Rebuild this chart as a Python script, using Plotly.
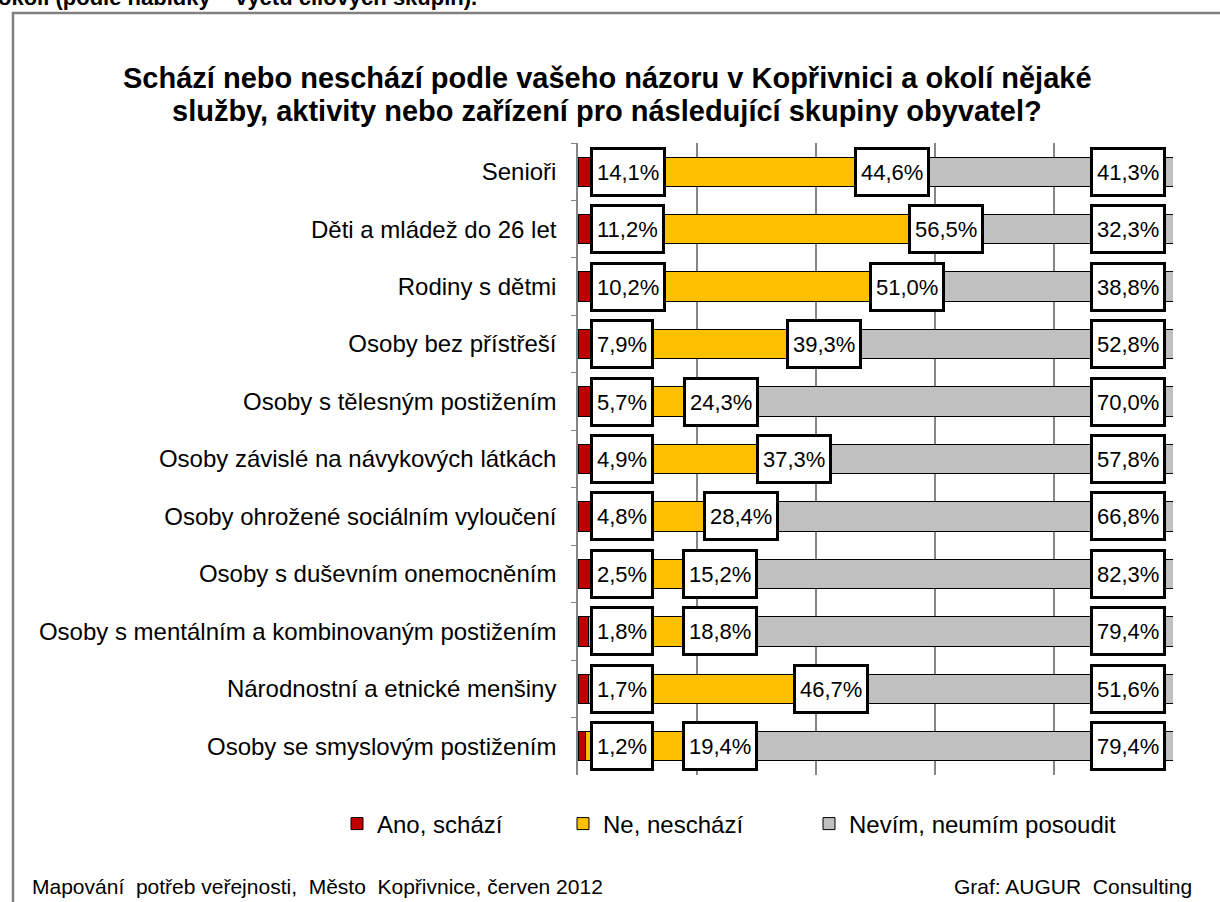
import plotly.graph_objects as go

# Data (top to bottom as in the picture)
groups = [
    "Senioři",
    "Děti a mládež do 26 let",
    "Rodiny s dětmi",
    "Osoby bez přístřeší",
    "Osoby s tělesným postižením",
    "Osoby závislé na návykových látkách",
    "Osoby ohrožené sociálním vyloučení",
    "Osoby s duševním onemocněním",
    "Osoby s mentálním a kombinovaným postižením",
    "Národnostní a etnické menšiny",
    "Osoby se smyslovým postižením",
]
ano = [14.1, 11.2, 10.2, 7.9, 5.7, 4.9, 4.8, 2.5, 1.8, 1.7, 1.2]
ne = [44.6, 56.5, 51.0, 39.3, 24.3, 37.3, 28.4, 15.2, 18.8, 46.7, 19.4]
nevim = [41.3, 32.3, 38.8, 52.8, 70.0, 57.8, 66.8, 82.3, 79.4, 51.6, 79.4]

series_names = ["Ano, schází", "Ne, neschází", "Nevím, neumím posoudit"]
colors = ["#C00000", "#FFC000", "#C0C0C0"]

title_lines = ["Schází nebo neschází podle vašeho názoru v Kopřivnici a okolí nějaké",
               "služby, aktivity nebo zařízení pro následující skupiny obyvatel?"]
top_text = "okolí (podle nabídky – výčtu cílových skupin)."
source_left = "Mapování  potřeb veřejnosti,  Město  Kopřivnice, červen 2012"
source_right = "Graf: AUGUR  Consulting"

W, H = 1220, 902
L, R, T, B = 578, 47, 143, 127
pw, ph = W - L - R, H - T - B


def px_x(p):
    return (p - L) / pw


def px_y(p):
    return (H - B - p) / ph


def fmt(v):
    return f"{v:.1f}".replace(".", ",") + "%"


FONT = "Liberation Sans, Arial, sans-serif"

legend_ids = ["legend", "legend2", "legend3"]
legend_text_x = [377, 603, 849]

fig = go.Figure()
for name, vals, col, lg in zip(series_names, [ano, ne, nevim], colors, legend_ids):
    fig.add_trace(go.Bar(
        y=groups, x=vals, name=name, orientation="h", legend=lg,
        marker=dict(color=col, line=dict(color="#000000", width=1)),
        hoverinfo="x+y",
    ))

# data labels in white boxes
annots = []
box = dict(showarrow=False, bgcolor="white", bordercolor="black", borderwidth=3,
           borderpad=4, height=36, valign="middle",
           font=dict(family=FONT, size=22, color="black"),
           xref="x", yref="y", yanchor="middle")
for g, a, n, v in zip(groups, ano, ne, nevim):
    annots.append(dict(x=2.0, y=g, text=fmt(a), xanchor="left", **box))
    end = a + n
    if end - 13 < 17:
        annots.append(dict(x=17.5, y=g, text=fmt(n), xanchor="left", **box))
    else:
        annots.append(dict(x=end + 0.5, y=g, text=fmt(n), xanchor="right", **box))
    annots.append(dict(x=98.8, y=g, text=fmt(v), xanchor="right", **box))

for line, yc in zip(title_lines, [78, 111]):
    annots.append(dict(text="<b>" + line + "</b>", x=px_x(607), y=px_y(yc),
                       xref="paper", yref="paper", xanchor="center", yanchor="middle",
                       showarrow=False, font=dict(family=FONT, size=29, color="black")))
annots.append(dict(text="<b>" + top_text + "</b>", x=px_x(-4), y=px_y(-3),
                   xref="paper", yref="paper", xanchor="left", yanchor="middle",
                   showarrow=False, font=dict(family=FONT, size=22, color="black")))
annots.append(dict(text=source_left, x=px_x(30), y=px_y(886),
                   xref="paper", yref="paper", xanchor="left", yanchor="middle",
                   showarrow=False, font=dict(family=FONT, size=21, color="black")))
annots.append(dict(text=source_right, x=px_x(1194), y=px_y(886),
                   xref="paper", yref="paper", xanchor="right", yanchor="middle",
                   showarrow=False, font=dict(family=FONT, size=21, color="black")))

legend_style = dict(orientation="h", xanchor="left", yanchor="middle",
                    font=dict(family=FONT, size=24, color="black"),
                    bgcolor="rgba(0,0,0,0)")
legends = {lg: dict(x=px_x(tx - 40), y=px_y(824), **legend_style)
           for lg, tx in zip(legend_ids, legend_text_x)}

fig.update_layout(
    width=W, height=H,
    margin=dict(l=L, r=R, t=T, b=B, autoexpand=False),
    paper_bgcolor="white", plot_bgcolor="white",
    barmode="stack", bargap=0.49,
    font=dict(family=FONT, color="black"),
    annotations=annots,
    shapes=[dict(type="rect", xref="paper", yref="paper",
                 x0=px_x(13), x1=px_x(1240), y0=px_y(13), y1=px_y(920),
                 line=dict(color="#808080", width=2.5), layer="below")],
    showlegend=True,
    **legends,
)
fig.update_xaxes(range=[0, 100], dtick=20, showgrid=True, gridcolor="#868686",
                 gridwidth=1.5, showticklabels=False, zeroline=False,
                 showline=False, fixedrange=True)
fig.update_yaxes(autorange="reversed", showline=True, linecolor="#868686",
                 linewidth=1.5, ticks="outside", tickson="boundaries", ticklen=5,
                 tickcolor="#868686", tickfont=dict(family=FONT, size=24, color="black"),
                 ticklabelstandoff=15, showgrid=False)

# page body has a default margin; drop it so the figure fills the window
fig.write_html("out.html", config={"displayModeBar": False},
               post_script="document.body.style.margin='0';")
